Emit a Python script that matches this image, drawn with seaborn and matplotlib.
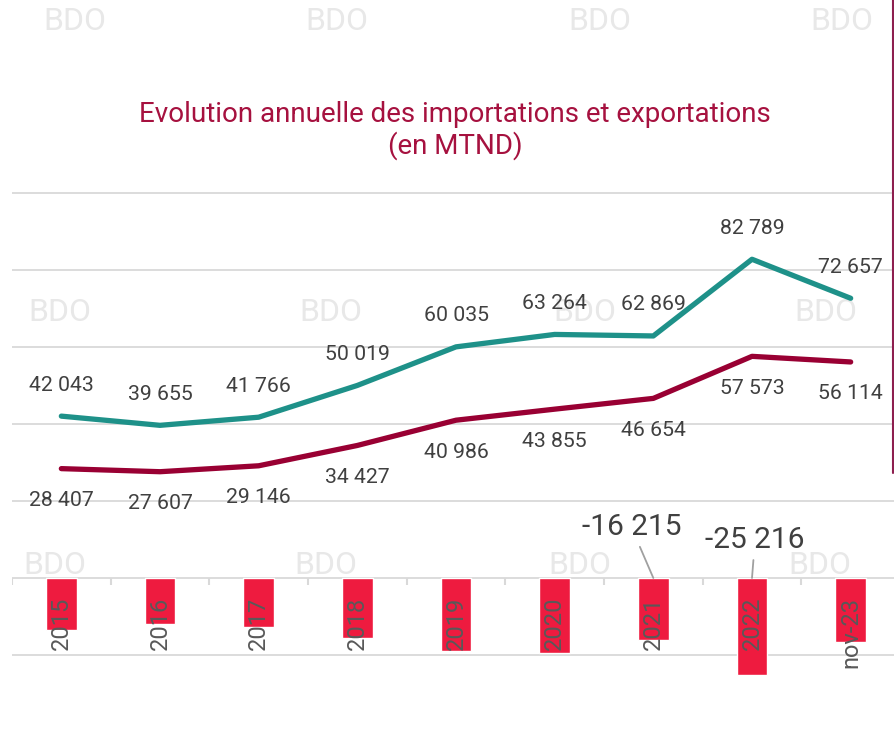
import numpy as np
import pandas as pd
import matplotlib
matplotlib.use("Agg")
import matplotlib.pyplot as plt
import seaborn as sns
from matplotlib.lines import Line2D

# ---- data ----
categories = ["2015", "2016", "2017", "2018", "2019", "2020", "2021", "2022", "nov-23"]
importations = [42043, 39655, 41766, 50019, 60035, 63264, 62869, 82789, 72657]
exportations = [28407, 27607, 29146, 34427, 40986, 43855, 46654, 57573, 56114]
balance = [-13636, -12048, -12620, -15592, -19049, -19409, -16215, -25216, -16543]
balance_labelled = ["2021", "2022"]
grid_values = [-20000, 0, 20000, 40000, 60000, 80000, 100000]
title_lines = ["Evolution annuelle des importations et exportations", "(en MTND)"]
watermark = "BDO"

C_IMP = "#1E9189"
C_EXP = "#990033"
C_BAR = "#EE1B3F"
C_TXT = "#404040"
C_CAT = "#595959"
C_GRID = "#d9d9d9"
C_TITLE = "#A6113F"

sns.set_theme(style="white")
plt.rcParams["font.family"] = ["Roboto", "DejaVu Sans"]

W, H = 894, 729
fig = plt.figure(figsize=(W / 100, H / 100), dpi=100)


def px_rect(left, top, right, bottom):
    return [left / W, 1 - bottom / H, (right - left) / W, (bottom - top) / H]


YMIN, YMAX = -30000, 101000
zero_px = 578
ppu = 77 / 20000
ax = fig.add_axes(px_rect(12, zero_px - YMAX * ppu, 900, zero_px - YMIN * ppu))
ax.patch.set_alpha(0)

df = pd.DataFrame({
    "cat": categories,
    "pos": np.arange(len(categories)),
    "imp": importations,
    "exp": exportations,
    "bal": balance,
})

# grid
ax.set_yticks(grid_values)
ax.yaxis.grid(True, color=C_GRID, lw=1.3, zorder=0)
ax.set_axisbelow(True)

sns.barplot(data=df, x="pos", y="bal", color=C_BAR, saturation=1, width=0.31,
            ax=ax, zorder=2, native_scale=True)
sns.lineplot(data=df, x="pos", y="imp", color=C_IMP, lw=3.8, ax=ax, zorder=3,
             solid_capstyle="round")
sns.lineplot(data=df, x="pos", y="exp", color=C_EXP, lw=3.8, ax=ax, zorder=3,
             solid_capstyle="round")

# zero-line tick marks at category boundaries
ax.vlines(np.arange(len(categories) + 1) - 0.5, 0, -7 / ppu, color=C_GRID, lw=1.5, zorder=1)

ax.set_xlim(-0.5, len(categories) - 0.5)
ax.set_ylim(YMIN, YMAX)
ax.set_xlabel("")
ax.set_ylabel("")
ax.tick_params(left=False, bottom=False, labelleft=False, labelbottom=False)
for s in ax.spines.values():
    s.set_visible(False)


def fmt(v):
    return f"{abs(v):,}".replace(",", " ") if v >= 0 else "-" + f"{abs(v):,}".replace(",", " ")


for i, v in enumerate(importations):
    ax.annotate(fmt(v), (i, v), xytext=(0, 31), textcoords="offset pixels",
                ha="center", va="center", fontsize=15.3, color=C_TXT, zorder=5)
for i, v in enumerate(exportations):
    ax.annotate(fmt(v), (i, v), xytext=(0, -32), textcoords="offset pixels",
                ha="center", va="center", fontsize=15.3, color=C_TXT, zorder=5)

for i, c in enumerate(categories):
    ax.annotate(c, (i, 0), xytext=(0, -19), textcoords="offset pixels", rotation=90,
                ha="center", va="top", fontsize=17, color=C_CAT, zorder=6)

bal_offsets = {"2021": (-22, 51), "2022": (3, 38)}
for i, c in enumerate(categories):
    if c in balance_labelled:
        ax.annotate(fmt(balance[i]), (i, 0), xytext=bal_offsets[c], textcoords="offset pixels",
                    ha="center", va="center", fontsize=21.5, color=C_TXT, zorder=6,
                    arrowprops=dict(arrowstyle="-", color="#a0a0a0", lw=1.3,
                                    shrinkA=2, shrinkB=0))

# watermarks
wm_rows = [
    (22, [75, 337, 600, 842]),
    (312, [60, 331, 585, 826]),
    (566, [55, 326, 580, 820]),
]
for y, xs in wm_rows:
    for x in xs:
        fig.text(x / W, 1 - y / H, watermark, ha="center", va="center", fontsize=23,
                 color="#e8e8e8", zorder=-1)

# title
fig.text(455 / W, 1 - 115 / H, title_lines[0], ha="center", va="center", fontsize=20, color=C_TITLE)
fig.text(455 / W, 1 - 146 / H, title_lines[1], ha="center", va="center", fontsize=20, color=C_TITLE)

# right border line
fig.add_artist(Line2D([893 / W, 893 / W], [1, 1 - 473 / H], color="#8E1F4F", lw=1.5,
                      transform=fig.transFigure))

fig.savefig("out.png", dpi=100, facecolor="white")
